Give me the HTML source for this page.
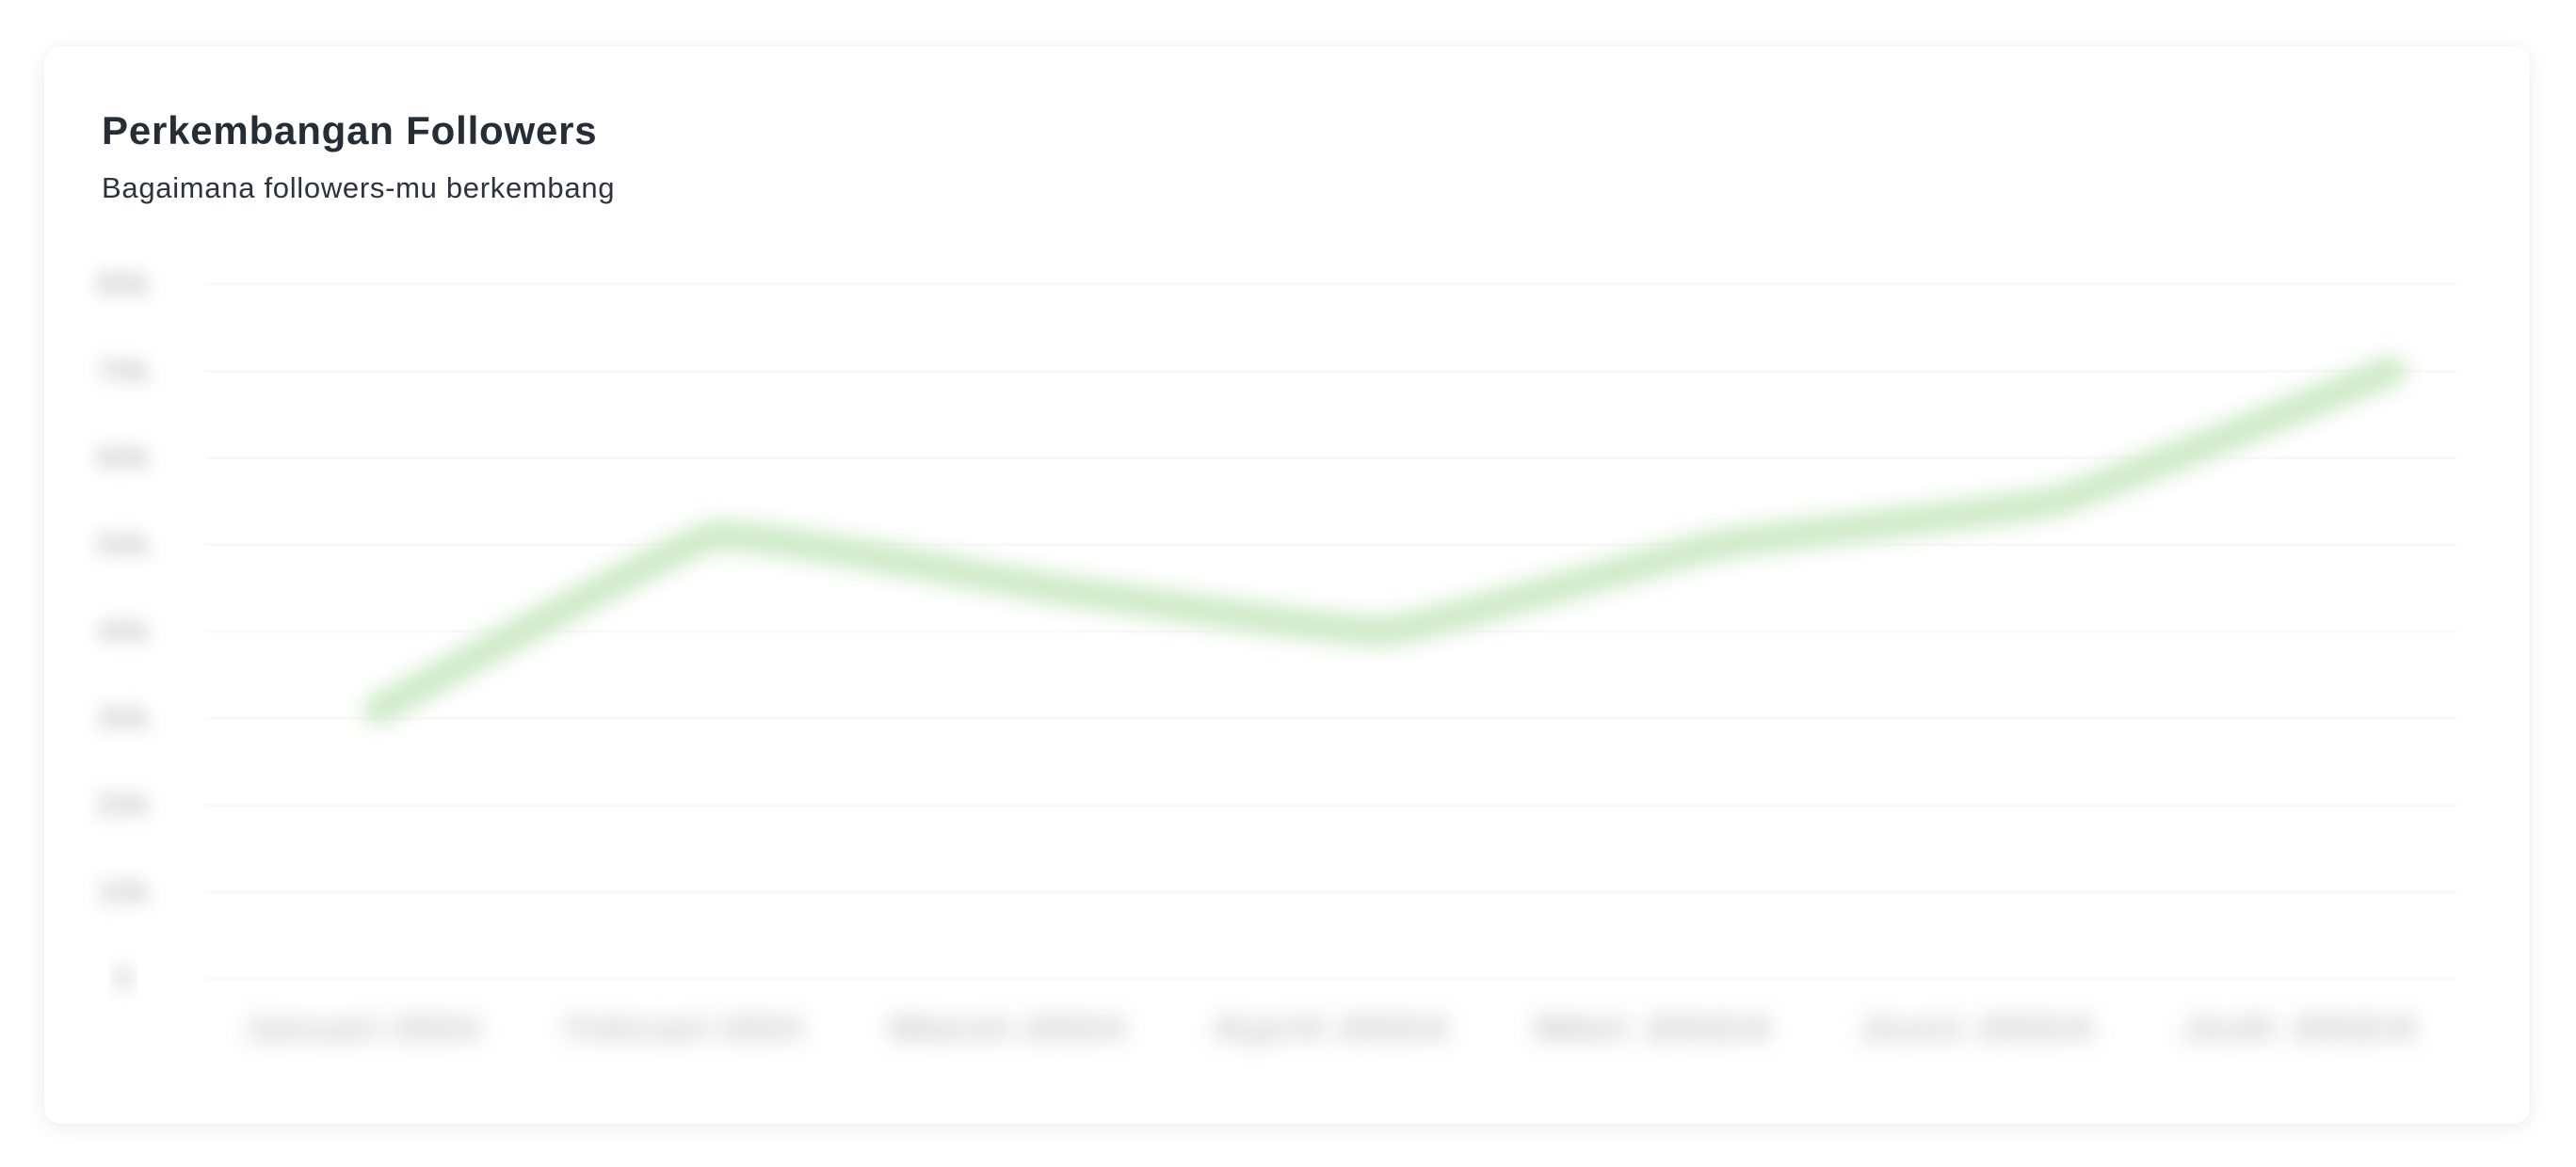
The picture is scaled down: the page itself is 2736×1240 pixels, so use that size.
<!DOCTYPE html>
<html><head><meta charset="utf-8"><style>
html,body{margin:0;padding:0;background:#fff;width:2736px;height:1240px;overflow:hidden;font-family:"Liberation Sans",sans-serif}
#card{position:absolute;left:47px;top:49px;width:2640px;height:1145px;background:#fff;border-radius:17px;box-shadow:0 4px 24px rgba(0,0,0,0.07),0 0 2px rgba(0,0,0,0.06)}
#title{position:absolute;left:61px;top:66px;font-size:42px;font-weight:bold;color:#252d36;letter-spacing:0.8px}
#sub{position:absolute;left:61px;top:133px;font-size:31px;color:#2c333b;letter-spacing:0.7px}
svg{position:absolute;left:0;top:0}
</style></head><body>
<div id="card">
<div id="title">Perkembangan Followers</div>
<div id="sub">Bagaimana followers-mu berkembang</div>
</div>
<svg id="chart" width="2736" height="1240">
<defs>
<filter id="b1" x="-30%" y="-100%" width="160%" height="300%"><feGaussianBlur stdDeviation="9"/></filter>
<filter id="b3" x="-30%" y="-100%" width="160%" height="300%"><feGaussianBlur stdDeviation="12"/></filter>
<filter id="b2" x="-10%" y="-50%" width="120%" height="200%"><feGaussianBlur stdDeviation="11"/></filter>
</defs>
</svg>
<script>
const categories=["Januari 2024","Februari 2024","Maret 2024","April 2024","Mei 2024","Juni 2024","Juli 2024"];
const followers=[31,51,45,40,50,55,70];
const yTicks=[0,10,20,30,40,50,60,70,80];
const yTickLabels=["0","10k","20k","30k","40k","50k","60k","70k","80k"];
const NS="http://www.w3.org/2000/svg";
const svg=document.getElementById('chart');
const y=v=>1040-(v-0)*(1040-302)/80;
const xPt=i=>402+i*(2540-402)/(categories.length-1);
const xLab=i=>384+i*(2440-384)/(categories.length-1);
function mk(t,a){const e=document.createElementNS(NS,t);for(const k in a)e.setAttribute(k,a[k]);svg.appendChild(e);return e;}
yTicks.forEach((v,i)=>{
 const g=mk('line',{x1:218,x2:2609,y1:y(v),y2:y(v),stroke:'#f9f9f9','stroke-width':3});
 
 
 const t=mk('text',{x:131,y:y(v)+11,'text-anchor':'middle','font-size':34,'font-weight':'bold',fill:'#c8c8c8',filter:'url(#b1)','font-family':'Liberation Sans, sans-serif'});
 t.textContent=yTickLabels[i];
 
 
});
categories.forEach((c,i)=>{
 const t=mk('text',{x:xLab(i),y:1104,'text-anchor':'middle','font-size':34,'font-weight':'bold',fill:'#c0c0c0',filter:'url(#b3)','font-family':'Liberation Sans, sans-serif','textLength':250,'lengthAdjust':'spacingAndGlyphs'});
 t.textContent=c;
 
 
});
const pts=followers.map((v,i)=>[xPt(i),y(v)]);
let d=`M${pts[0][0]},${pts[0][1]}`;
for(let i=0;i<pts.length-1;i++){
 const p0=pts[Math.max(0,i-1)],p1=pts[i],p2=pts[i+1],p3=pts[Math.min(pts.length-1,i+2)];
 const k=0.05;
 d+=` C${p1[0]+(p2[0]-p0[0])*k},${p1[1]+(p2[1]-p0[1])*k} ${p2[0]-(p3[0]-p1[0])*k},${p2[1]-(p3[1]-p1[1])*k} ${p2[0]},${p2[1]}`;
}
const line=mk('path',{d:d,fill:'none',stroke:'#cdeac6','stroke-width':32,'stroke-linecap':'round','stroke-linejoin':'round',filter:'url(#b2)'});


</script>
</body></html>
